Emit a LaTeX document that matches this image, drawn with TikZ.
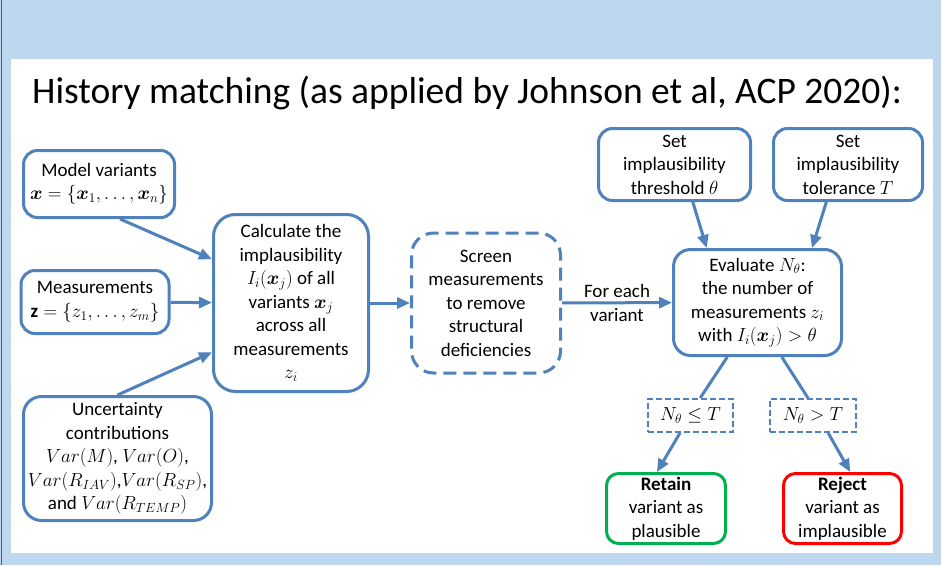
\documentclass[tikz,border=0pt]{standalone}
\usepackage{fix-cm}
\usepackage{amsmath}
\usepackage{amssymb}
\usepackage{fontspec}
\setmainfont{Carlito}
\usepackage{xcolor}
\usepackage{tikz}
\usetikzlibrary{arrows.meta}

\definecolor{hmblue}{HTML}{4F81BD}
\definecolor{hmback}{HTML}{BDD7EE}
\definecolor{hmedge}{HTML}{3B5EA0}
\definecolor{hmgreen}{HTML}{00B050}
\definecolor{hmred}{HTML}{FF0000}
\newcommand{\bodyfont}{\fontsize{19}{23.5}\selectfont}
\newcommand{\titlefont}{\fontsize{37.5}{42}\selectfont}

\begin{document}
\begin{tikzpicture}[
  x=1pt,
  y=-1pt,
  box/.style={draw=hmblue, line width=3pt, rounded corners=14pt, fill=white, align=center, font=\bodyfont, inner sep=2pt},
  dashbox/.style={box, dash pattern=on 13pt off 7pt},
  condbox/.style={draw=hmblue, line width=2pt, dash pattern=on 6pt off 3pt, fill=white, align=center, font=\bodyfont, inner sep=2pt},
  arrow/.style={-{Triangle[length=13pt,width=11pt]}, line width=3pt, color=hmblue},
  link/.style={line width=3pt, color=hmblue}
]
  \useasboundingbox (0,0) rectangle (941,565);
  \fill[hmback] (0,0) rectangle (941,565);
  \fill[white] (11,59) rectangle (933,553);
  \draw[hmedge, line width=1.8pt] (1.5,0) -- (1.5,565);

  \node[anchor=base west, inner sep=0pt, font=\titlefont] (title) at (32,103) {History matching (as applied by Johnson et al, ACP 2020):};

  \node[box, minimum width=151pt, minimum height=67pt] (model) at (99,184) {Model variants\\$\boldsymbol{x}=\{\boldsymbol{x}_1,\ldots,\boldsymbol{x}_n\}$};
  \node[box, minimum width=148pt, minimum height=63pt] (meas) at (95,302) {Measurements\\$\mathbf{z}=\{z_1,\ldots,z_m\}$};
  \node[box, rounded corners=18pt, minimum width=188pt, minimum height=124pt] (unc) at (117.5,458.5) {Uncertainty\\contributions\\$Var(M)$, $Var(O)$,\\$Var(R_{IAV})$,$Var(R_{SP})$,\\and $Var(R_{TEMP})$};
  \node[box, rounded corners=22pt, minimum width=155pt, minimum height=177pt] (calc) at (291,303) {Calculate the\\implausibility\\$I_i(\boldsymbol{x}_j)$ of all\\variants $\boldsymbol{x}_j$\\across all\\measurements\\$z_i$};
  \node[dashbox, rounded corners=22pt, minimum width=149pt, minimum height=140pt] (screen) at (486,303) {Screen\\measurements\\to remove\\structural\\deficiencies};

  \node[box, minimum width=152pt, minimum height=72pt] (thresh) at (674.5,164.5) {Set\\implausibility\\threshold $\theta$};
  \node[box, minimum width=149pt, minimum height=72pt] (toler) at (848,164.5) {Set\\implausibility\\tolerance $T$};
  \node[box, rounded corners=17pt, minimum width=168pt, minimum height=106pt] (eval) at (757.5,302.5) {Evaluate $N_\theta$:\\the number of\\measurements $z_i$\\with $I_i(\boldsymbol{x}_j)>\theta$};

  \node[condbox, minimum width=85pt, minimum height=33pt] (keep) at (690.5,415.5) {$N_\theta\leq T$};
  \node[condbox, minimum width=86pt, minimum height=33pt] (drop) at (813,415.5) {$N_\theta>T$};
  \node[box, draw=hmgreen, rounded corners=12pt, minimum width=119pt, minimum height=70pt] (retain) at (666,508.5) {\textbf{Retain}\\variant as\\plausible};
  \node[box, draw=hmred, rounded corners=12pt, minimum width=118pt, minimum height=70pt] (reject) at (842.5,508.5) {\textbf{Reject}\\variant as\\implausible};

  \draw[arrow] (model.-59) -- (calc.151);
  \draw[arrow] (meas) -- (calc);
  \draw[arrow] (unc.north) -- (calc.212);
  \draw[arrow] (calc) -- (screen);
  \draw[arrow] (screen) -- node[font=\bodyfont, align=center, text=black] {For each\\variant} (eval);
  \draw[arrow] (thresh.-64) -- (eval.133);
  \draw[arrow] (toler.-120) -- (eval.45);
  \draw[link] (eval.-119) -- (keep.61);
  \draw[arrow] (keep.-121) -- (retain.104);
  \draw[link] (eval.-66) -- (drop.106);
  \draw[arrow] (drop.-49) -- (reject.78);
\end{tikzpicture}
\end{document}
